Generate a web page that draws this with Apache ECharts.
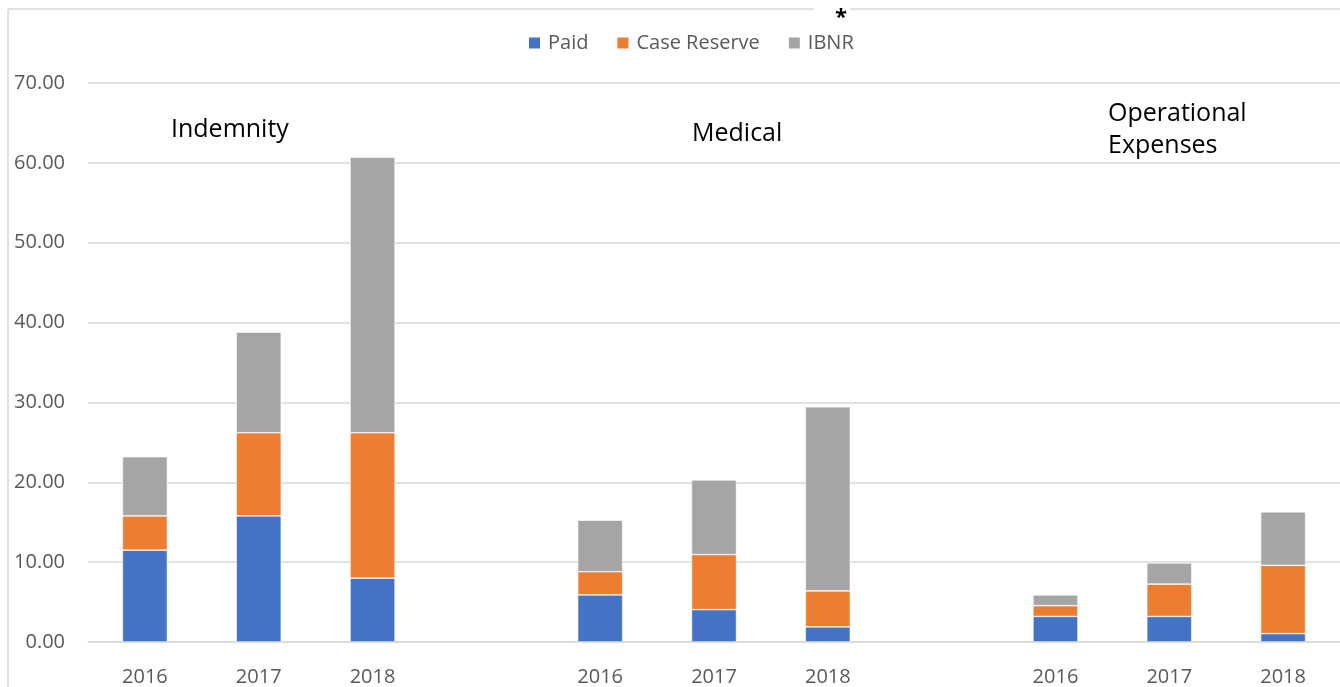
<!DOCTYPE html>
<html>
<head>
<meta charset="utf-8">
<script src="https://cdn.jsdelivr.net/npm/echarts@6/dist/echarts.min.js"></script>
<style>
  html, body { margin: 0; padding: 0; background: #fff; }
  #chart { width: 1340px; height: 687px; }
</style>
</head>
<body>
<div id="chart"></div>
<script>
// categories: three groups of years, with an empty slot between groups
const years = ["2016", "2017", "2018", "", "2016", "2017", "2018", "", "2016", "2017", "2018"];
const seriesNames = ["Paid", "Case Reserve", "IBNR"];
const paid = [11.5, 15.8, 8.0, "-", 5.9, 4.05, 1.9, "-", 3.2, 3.2, 1.05];
const caseReserve = [4.3, 10.4, 18.2, "-", 2.9, 6.9, 4.5, "-", 1.35, 4.05, 8.55];
const ibnr = [7.4, 12.6, 34.5, "-", 6.45, 9.35, 23.05, "-", 1.35, 2.65, 6.7];
const groupLabels = ["Indemnity", "Medical", "Operational\nExpenses"];

const colors = ["#4472C4", "#ED7D31", "#A5A5A5"];
const font = "Open Sans";

const chart = echarts.init(document.getElementById("chart"));

const barSeries = [paid, caseReserve, ibnr].map((d, i) => ({
  name: seriesNames[i],
  type: "bar",
  stack: "total",
  data: d,
  barWidth: 45,
  itemStyle: { color: colors[i], borderColor: "#ffffff", borderWidth: 0.6 },
  emphasis: { disabled: true },
}));

chart.setOption({
  animation: false,
  color: colors,
  textStyle: { fontFamily: font },
  legend: {
    data: seriesNames,
    left: 522,
    top: 28,
    itemWidth: 13,
    itemHeight: 13,
    itemGap: 27,
    icon: "rect",
    textStyle: { color: "#595959", fontSize: 20, fontFamily: font, padding: [0, 0, 0, 2] },
  },
  grid: { left: 88, right: -3, top: 83, bottom: 45 },
  xAxis: {
    type: "category",
    data: years,
    axisLine: { lineStyle: { color: "#d9d9d9", width: 1.5 } },
    axisTick: { show: false },
    axisLabel: { color: "#595959", fontSize: 20, margin: 25, fontFamily: font },
  },
  yAxis: {
    type: "value",
    min: 0,
    max: 70,
    interval: 10,
    axisLine: { show: false },
    axisTick: { show: false },
    axisLabel: {
      color: "#595959",
      fontSize: 20,
      margin: 23,
      fontFamily: font,
      formatter: (v) => v.toFixed(2),
    },
    splitLine: { lineStyle: { color: "#d9d9d9", width: 1.5 } },
  },
  graphic: [
    // outer frame (left and top edges)
    { type: "line", shape: { x1: 8, y1: 9, x2: 8, y2: 700 }, style: { stroke: "#d9d9d9", lineWidth: 1.5 } },
    { type: "line", shape: { x1: 8, y1: 9, x2: 814, y2: 9 }, style: { stroke: "#d9d9d9", lineWidth: 1.5 } },
    { type: "line", shape: { x1: 850, y1: 9, x2: 1345, y2: 9 }, style: { stroke: "#d9d9d9", lineWidth: 1.5 } },
    { type: "text", left: 835, top: 7, style: { text: "*", fontSize: 22, fontWeight: "bold", fill: "#000", fontFamily: font } },
    // group titles
    { type: "text", left: 171, top: 117, style: { text: groupLabels[0], fontSize: 25, fill: "#000", fontFamily: font } },
    { type: "text", left: 692, top: 121, style: { text: groupLabels[1], fontSize: 25, fill: "#000", fontFamily: font } },
    { type: "text", left: 1108, top: 98, style: { text: groupLabels[2], fontSize: 25, lineHeight: 32, fill: "#000", fontFamily: font } },
  ],
  series: barSeries,
});
</script>
</body>
</html>
